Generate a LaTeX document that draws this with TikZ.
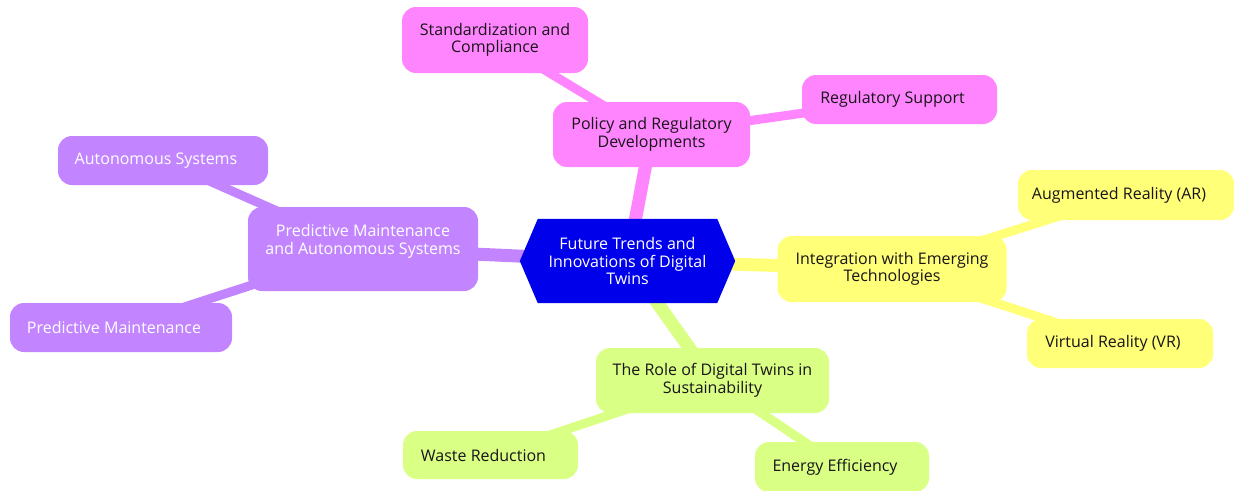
\documentclass[tikz,border=0pt]{standalone}
\usepackage{fontspec}
\setmainfont{Open Sans}
\usetikzlibrary{backgrounds}

\definecolor{rootblue}{RGB}{0,0,235}
\definecolor{pinkc}{RGB}{255,133,255}
\definecolor{purplec}{RGB}{194,133,255}
\definecolor{yellowc}{RGB}{255,255,120}
\definecolor{greenc}{RGB}{217,255,133}
\definecolor{darktext}{RGB}{25,20,25}

\tikzset{
  box/.style={rounded corners=14pt, align=center, inner sep=0pt,
    font=\fontsize{16}{17.5}\selectfont, text=darktext},
  leafbox/.style={box, execute at end node={\hspace*{14pt}}},
  trunk/.style={line width=13pt},
  twig/.style={line width=9pt},
}

\begin{document}
\begin{tikzpicture}[x=1pt, y=-1pt]
\useasboundingbox (0,0) rectangle (1234,490);

% central topic (hexagon drawn on the background layer)
\node[box, text=white, minimum width=215, minimum height=84] (root) at (627.5,261)
  {Future Trends and\\Innovations of Digital\\Twins};

% policy branch
\node[box, fill=pinkc, minimum width=197, minimum height=65] (policy) at (651.5,134.5)
  {Policy and Regulatory\\Developments};
\node[box, fill=pinkc, minimum width=186, minimum height=66] (std) at (495,40)
  {Standardization and\\Compliance};
\node[leafbox, fill=pinkc, minimum width=195, minimum height=49] (reg) at (899.5,99.5)
  {Regulatory Support};

% maintenance branch (label sits in the upper part of its box)
\node[box, fill=purplec, text=white, minimum width=230, minimum height=84] (pmas) at (363,249)
  {\begin{tabular}{@{}c@{}}Predictive Maintenance\\and Autonomous Systems\\[14pt]\end{tabular}};
\node[leafbox, fill=purplec, text=white, minimum width=210, minimum height=49] (auto) at (163,160.5)
  {Autonomous Systems};
\node[leafbox, fill=purplec, text=white, minimum width=222, minimum height=49] (pm) at (121,327.5)
  {Predictive Maintenance};

% emerging technologies branch
\node[box, fill=yellowc, minimum width=229, minimum height=66] (integ) at (892,269)
  {Integration with Emerging\\Technologies};
\node[leafbox, fill=yellowc, minimum width=216, minimum height=50] (ar) at (1126,195)
  {Augmented Reality (AR)};
\node[leafbox, fill=yellowc, minimum width=186, minimum height=49] (vr) at (1120,343.5)
  {Virtual Reality (VR)};

% sustainability branch
\node[box, fill=greenc, minimum width=233, minimum height=65] (role) at (712.5,380.5)
  {The Role of Digital Twins in\\Sustainability};
\node[leafbox, fill=greenc, minimum width=175, minimum height=48] (waste) at (490.5,455)
  {Waste Reduction};
\node[leafbox, fill=greenc, minimum width=174, minimum height=50] (energy) at (842,467)
  {Energy Efficiency};

\begin{scope}[on background layer]
  % connectors
  \draw[trunk, pinkc]   (root.center) -- (policy.center);
  \draw[trunk, purplec] (root.center) -- (pmas.center);
  \draw[trunk, yellowc] (root.center) -- (integ.center);
  \draw[trunk, greenc]  (root.center) -- (role.center);
  \draw[twig, pinkc]    (policy.center) -- (std.center);
  \draw[twig, pinkc]    (policy.center) -- (reg.center);
  \draw[twig, purplec]  (pmas.center) -- (auto.center);
  \draw[twig, purplec]  (pmas.center) -- (pm.center);
  \draw[twig, yellowc]  (integ.center) -- (ar.center);
  \draw[twig, yellowc]  (integ.center) -- (vr.center);
  \draw[twig, greenc]   (role.center) -- (waste.center);
  \draw[twig, greenc]   (role.center) -- (energy.center);
  % hexagon of the central topic
  \fill[rootblue] (root.west) -- ([xshift=18pt]root.north west)
    -- ([xshift=-18pt]root.north east) -- (root.east)
    -- ([xshift=-18pt]root.south east) -- ([xshift=18pt]root.south west) -- cycle;
\end{scope}
\end{tikzpicture}
\end{document}
